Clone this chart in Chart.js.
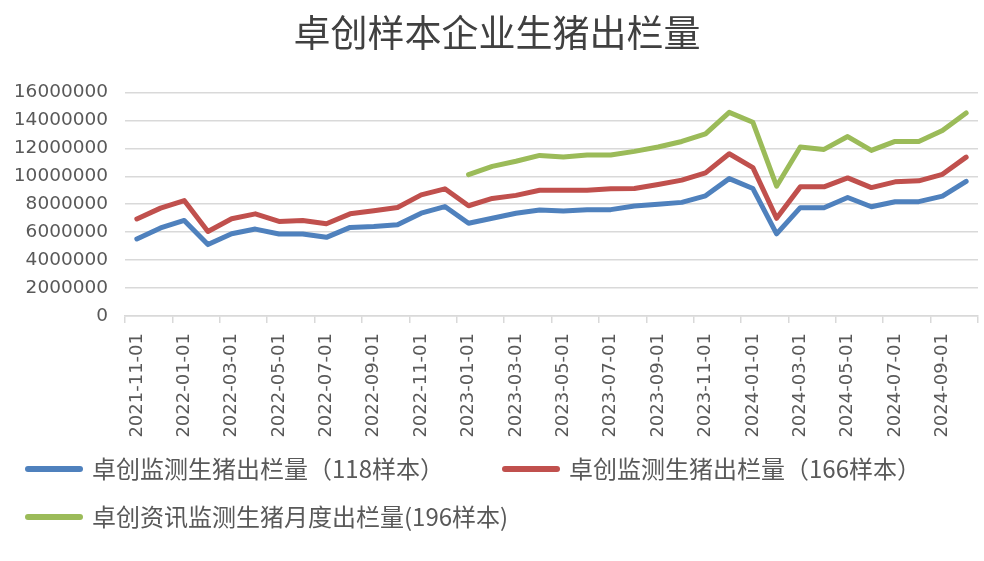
<!DOCTYPE html>
<html>
<head>
<meta charset="utf-8">
<script src="https://cdn.jsdelivr.net/npm/chart.js@4/dist/chart.umd.min.js"></script>
<style>
  html, body { margin: 0; padding: 0; background: #fff; }
  #wrap { width: 984px; height: 561px; position: relative; }
</style>
</head>
<body>
<div id="wrap"><canvas id="chart" width="984" height="561"></canvas></div>
<script>
const months = [
  '2021-11-01', '2021-12-01', '2022-01-01', '2022-02-01', '2022-03-01', '2022-04-01',
  '2022-05-01', '2022-06-01', '2022-07-01', '2022-08-01', '2022-09-01', '2022-10-01',
  '2022-11-01', '2022-12-01', '2023-01-01', '2023-02-01', '2023-03-01', '2023-04-01',
  '2023-05-01', '2023-06-01', '2023-07-01', '2023-08-01', '2023-09-01', '2023-10-01',
  '2023-11-01', '2023-12-01', '2024-01-01', '2024-02-01', '2024-03-01', '2024-04-01',
  '2024-05-01', '2024-06-01', '2024-07-01', '2024-08-01', '2024-09-01', '2024-10-01'
]

const sample118 = [
  5510000, 6300000, 6840000, 5110000, 5890000, 6220000, 5870000, 5870000, 5630000, 6340000,
  6410000, 6530000, 7360000, 7830000, 6640000, 6990000, 7350000, 7580000, 7510000, 7610000,
  7610000, 7870000, 7990000, 8130000, 8600000, 9830000, 9120000, 5880000, 7750000, 7750000,
  8480000, 7820000, 8180000, 8180000, 8580000, 9640000
]

const sample166 = [
  6940000, 7720000, 8260000, 6050000, 6960000, 7310000, 6770000, 6840000, 6600000, 7310000,
  7530000, 7760000, 8670000, 9100000, 7890000, 8410000, 8630000, 9000000, 9000000, 9000000,
  9100000, 9120000, 9410000, 9720000, 10240000, 11610000, 10620000, 6990000, 9240000, 9240000,
  9880000, 9190000, 9600000, 9670000, 10140000, 11370000
]

const sample196 = [
  null, null, null, null, null, null, null, null, null, null,
  null, null, null, null, 10120000, 10710000, 11070000, 11490000, 11370000, 11520000,
  11520000, 11780000, 12090000, 12490000, 13030000, 14570000, 13860000, 9290000, 12090000, 11920000,
  12840000, 11850000, 12490000, 12490000, 13270000, 14530000
]

const seriesNames = [
  '卓创监测生猪出栏量（118样本）',
  '卓创监测生猪出栏量（166样本）',
  '卓创资讯监测生猪月度出栏量(196样本)'
]
const seriesColors = ['#4F81BD', '#C0504D', '#9BBB59']

const gridGray = '#D9D9D9'
const textGray = '#595959'
const cjk = '"Noto Sans CJK SC", "Noto Sans", sans-serif'

// legend drawn by hand: two columns on first row, one on the second
const legendSpots = [
  { x: 25, y: 469 },
  { x: 502, y: 469 },
  { x: 25, y: 517 }
]

const manualLegend = {
  id: 'manualLegend',
  afterDraw(chart) {
    const ctx = chart.ctx
    ctx.save()
    chart.data.datasets.forEach((ds, i) => {
      const spot = legendSpots[i]
      ctx.strokeStyle = ds.borderColor
      ctx.lineWidth = 6
      ctx.lineCap = 'round'
      ctx.beginPath()
      ctx.moveTo(spot.x + 3, spot.y)
      ctx.lineTo(spot.x + 55, spot.y)
      ctx.stroke()
      ctx.fillStyle = textGray
      ctx.font = '24px ' + cjk
      ctx.textBaseline = 'middle'
      ctx.textAlign = 'left'
      ctx.fillText(ds.label, spot.x + 67, spot.y)
    })
    ctx.restore()
  }
}

function lineSet(i, values) {
  return {
    label: seriesNames[i],
    data: values,
    borderColor: seriesColors[i],
    backgroundColor: seriesColors[i],
    borderWidth: 5,
    borderCapStyle: 'round',
    borderJoinStyle: 'round',
    pointRadius: 0,
    tension: 0,
    spanGaps: false
  }
}

new Chart(document.getElementById('chart'), {
  type: 'line',
  data: {
    labels: months,
    datasets: [lineSet(0, sample118), lineSet(1, sample166), lineSet(2, sample196)]
  },
  options: {
    responsive: false,
    animation: false,
    layout: { padding: { left: 16, right: 6, top: 0, bottom: 0 } },
    plugins: {
      legend: { display: false },
      tooltip: { enabled: false },
      title: {
        display: true,
        text: '卓创样本企业生猪出栏量',
        color: '#404040',
        font: { size: 37, family: cjk, weight: 'normal' },
        padding: { top: 11, bottom: 37 }
      }
    },
    scales: {
      x: {
        offset: true,
        afterFit: (scale) => {
          scale.height = 245
          scale.paddingLeft = 0
          scale.paddingRight = 0
        },
        grid: {
          offset: true,
          drawOnChartArea: false,
          drawTicks: true,
          tickLength: 7,
          lineWidth: 1.5,
          color: (c) => (c.index === undefined || c.index % 2 === 0) ? gridGray : 'rgba(0,0,0,0)'
        },
        border: { display: true, color: gridGray, width: 1.5 },
        ticks: {
          autoSkip: false,
          maxRotation: 90,
          minRotation: 90,
          padding: 10,
          color: textGray,
          font: { size: 18, family: '"DejaVu Sans", sans-serif' },
          callback: function (v, idx) { return idx % 2 === 0 ? this.getLabelForValue(v) : '' }
        }
      },
      y: {
        min: 0,
        max: 16000000,
        afterFit: (scale) => { scale.width = 109 },
        grid: { color: gridGray, lineWidth: 1.5, drawTicks: false },
        border: { display: false },
        ticks: {
          stepSize: 2000000,
          padding: 17,
          color: textGray,
          font: { size: 18.5, family: '"DejaVu Sans", sans-serif' },
          callback: (v) => String(v)
        }
      }
    }
  },
  plugins: [manualLegend]
})
</script>
</body>
</html>
